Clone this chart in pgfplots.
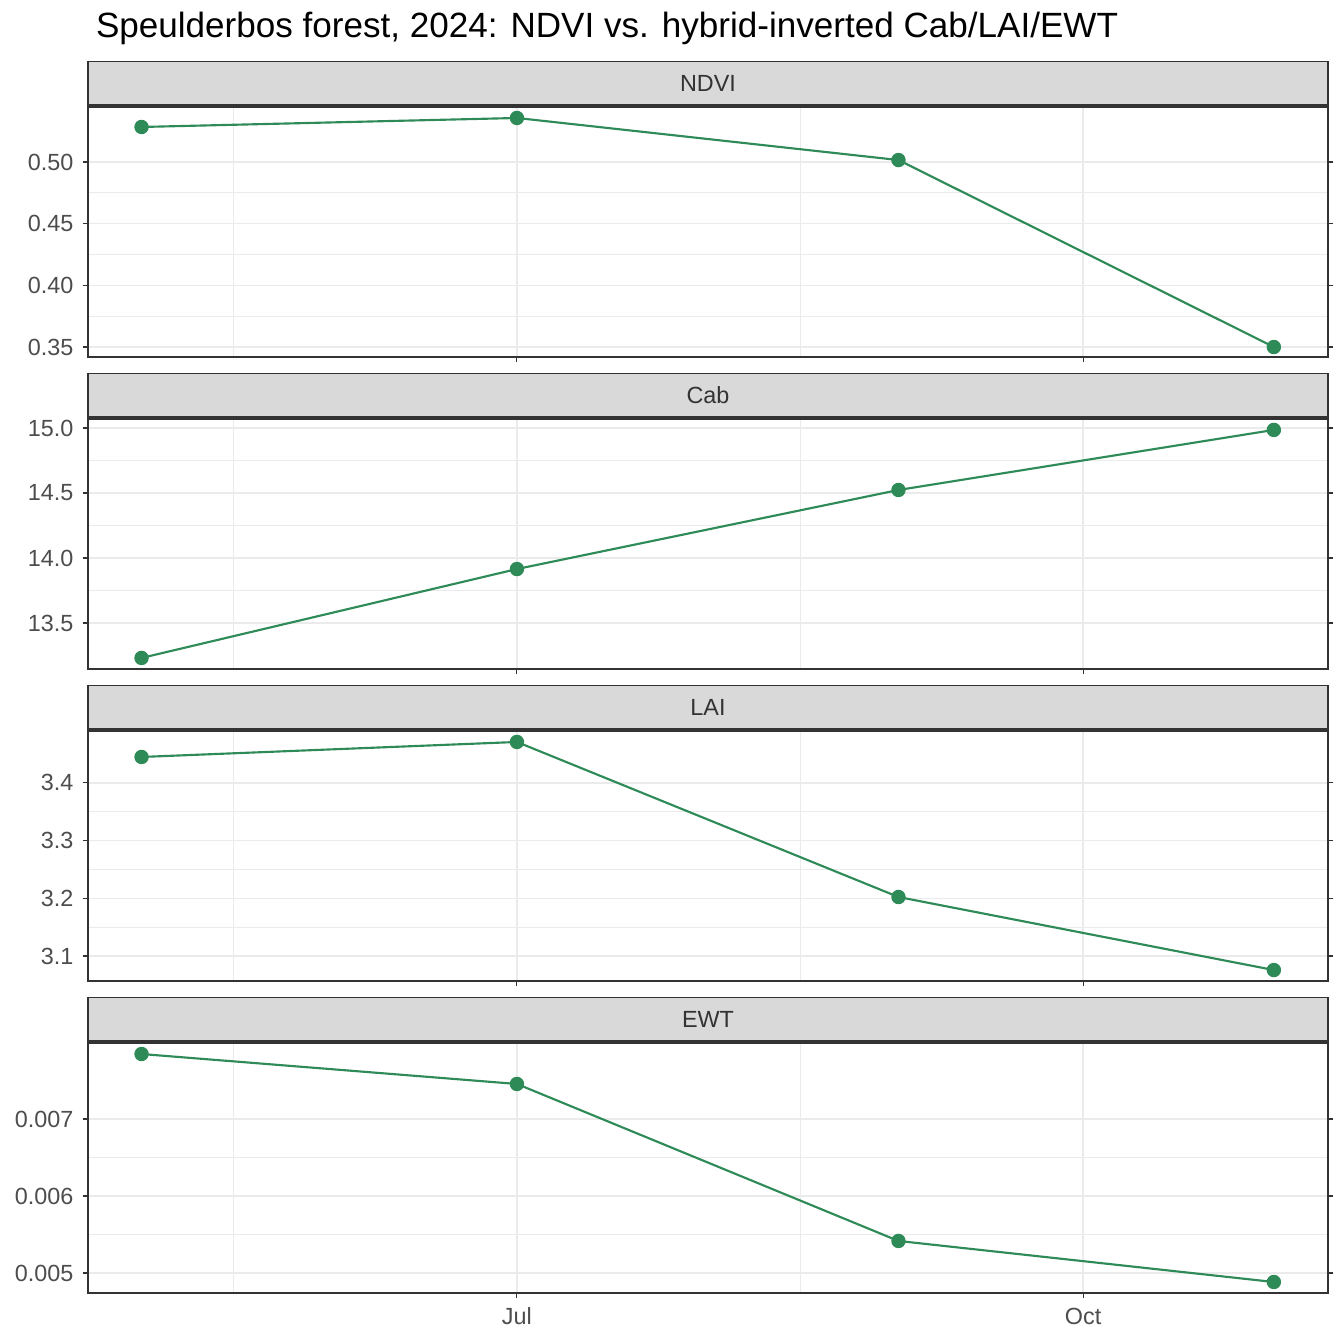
\documentclass[border=0pt]{standalone}
\usepackage{pgfplots}
\pgfplotsset{compat=1.18}
\usepackage{fontspec}
\setmainfont{Liberation Sans}
\definecolor{sg}{HTML}{2E8B57}
\definecolor{g20}{HTML}{333333}
\definecolor{g30}{HTML}{4D4D4D}
\definecolor{g85}{HTML}{D9D9D9}
\definecolor{g92}{HTML}{EBEBEB}
\pgfplotsset{
  panel/.style={
    scale only axis, width=465bp, height=93.75bp,
    anchor=north west,
    xmin=-69.7, xmax=131.8,
    xtick={0,92}, xticklabels={}, minor xtick={-46,46},
    minor y tick num=1,
    grid=both,
    major grid style={draw=g92, line width=0.55bp},
    minor grid style={draw=g92, line width=0.3bp},
    axis line style={draw=g20, line width=0.4bp},
    tick align=outside, major tick length=2bp, minor tick length=0pt,
    tick style={draw=g20, line width=0.4bp},
    ticklabel style={font=\fontsize{8.8}{10}\selectfont, text=g30},
    /pgf/number format/assume math mode=true,
    yticklabel style={/pgf/number format/fixed, /pgf/number format/fixed zerofill},
    axis on top=false,
  },
  ser/.style={sg, line width=0.8bp, mark=*, mark size=2.3bp, mark options={fill=sg, draw=sg}},
}
\newcommand{\strip}[2]{%
  \draw[fill=g85, draw=g20, line width=0.4bp] (0,#1+0.75bp) rectangle (465bp,#1+16.9bp);
  \node[font=\fontsize{8.8}{10}\selectfont, text=g20] at (232.5bp,#1+8.8bp) {#2};
}
\begin{document}
\begin{tikzpicture}
\path (-33bp,40.125bp) rectangle (471bp,-463.875bp);
\node[anchor=west, font=\fontsize{13.2}{15}\selectfont] at (-0.5bp,29.6bp) {Speulderbos forest, 2024: NDVI vs. hybrid-inverted Cab/LAI/EWT};
\begin{axis}[panel, at={(0,0)}, ymin=0.3419, ymax=0.5446, ytick={0.35,0.40,0.45,0.50},
  yticklabel style={/pgf/number format/precision=2}]
\addplot[ser] coordinates {(-61,0.5284) (0,0.5357) (62,0.5016) (123,0.3500)};
\end{axis}
\strip{0bp}{NDVI}
\begin{axis}[panel, at={(0,-117bp)}, ymin=13.146, ymax=15.069, ytick={13.5,14.0,14.5,15.0},
  yticklabel style={/pgf/number format/precision=1}]
\addplot[ser] coordinates {(-61,13.231) (0,13.915) (62,14.523) (123,14.985)};
\end{axis}
\strip{-117bp}{Cab}
\begin{axis}[panel, at={(0,-234bp)}, ymin=3.0567, ymax=3.490, ytick={3.1,3.2,3.3,3.4},
  yticklabel style={/pgf/number format/precision=1}]
\addplot[ser] coordinates {(-61,3.445) (0,3.471) (62,3.2023) (123,3.0757)};
\end{axis}
\strip{-234bp}{LAI}
\begin{axis}[panel, at={(0,-351bp)}, ymin=0.00474, ymax=0.007987, ytick={0.005,0.006,0.007},
  yticklabel style={/pgf/number format/precision=3}, scaled y ticks=false,
  xticklabels={Jul,Oct}]
\addplot[ser] coordinates {(-61,0.007844) (0,0.007455) (62,0.005416) (123,0.004883)};
\end{axis}
\strip{-351bp}{EWT}
\end{tikzpicture}
\end{document}
